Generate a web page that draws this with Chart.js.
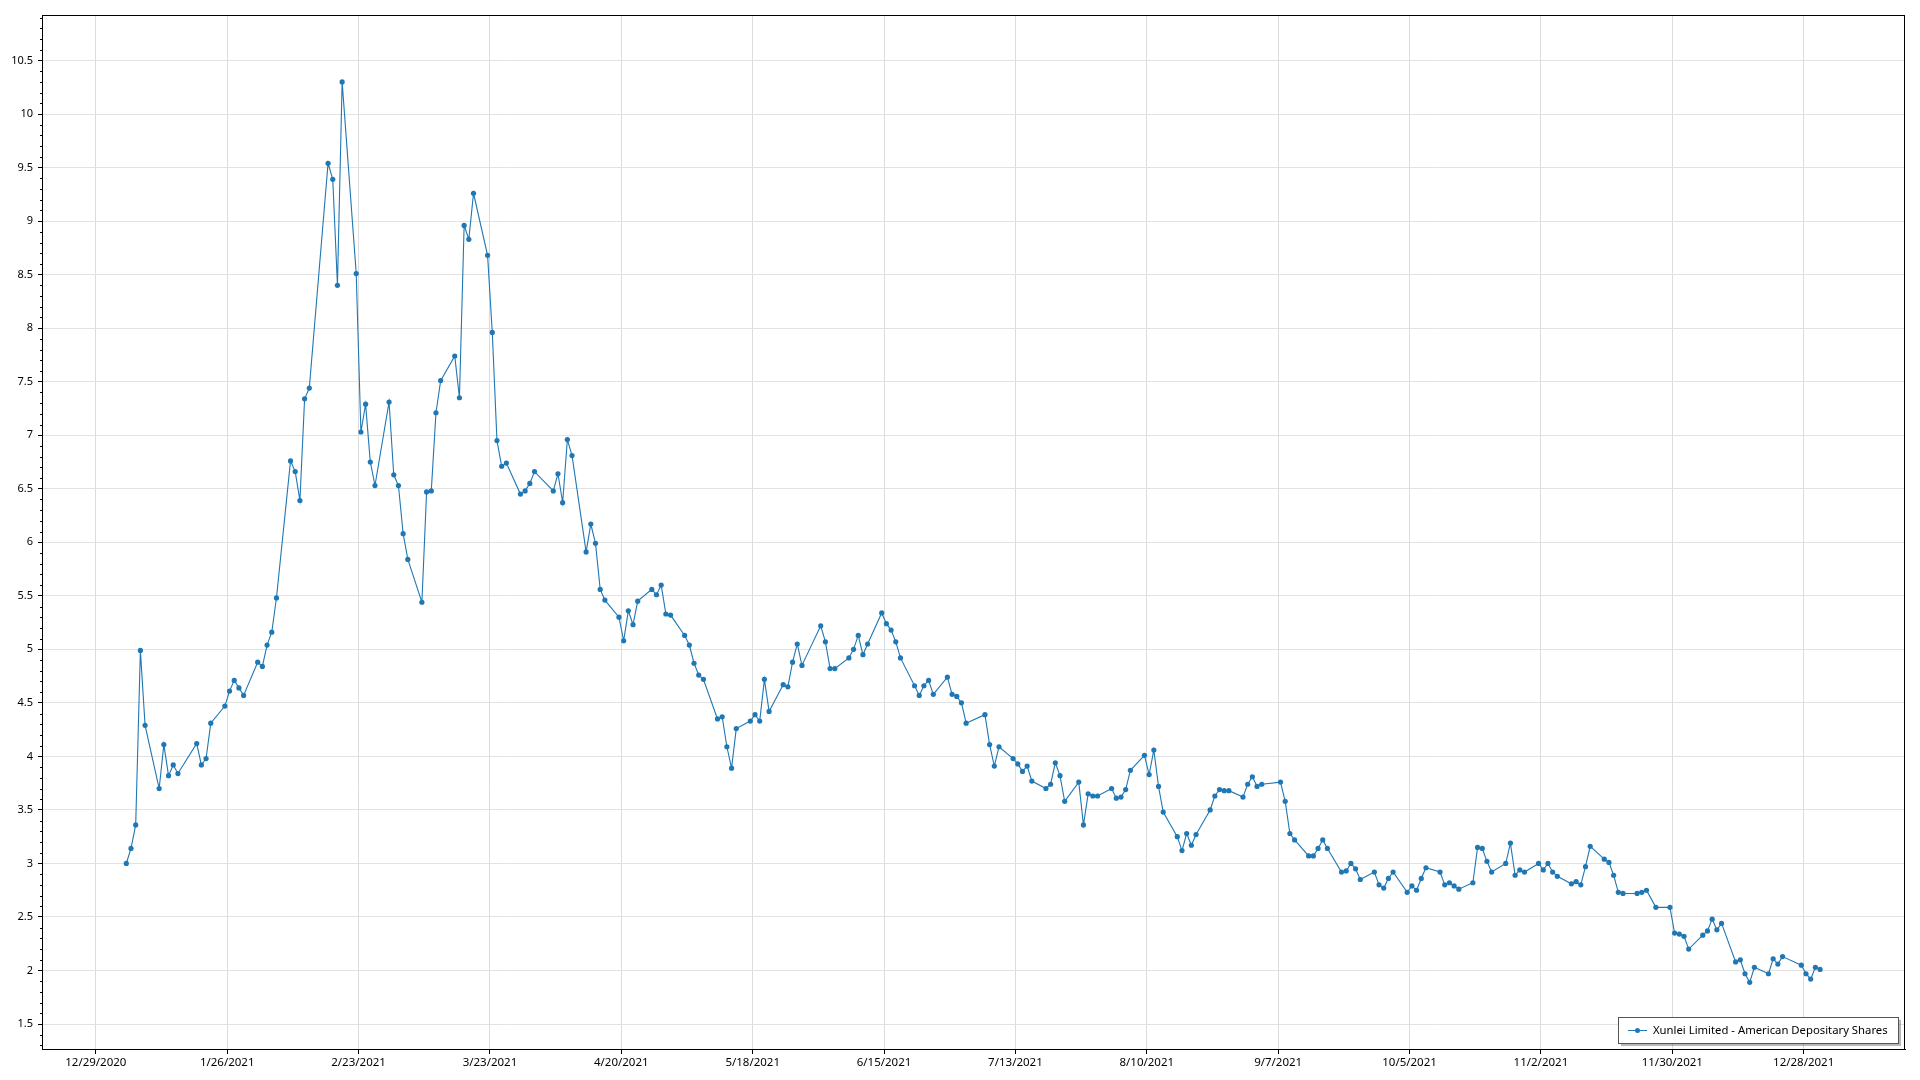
<!DOCTYPE html>
<html lang="en">
<head>
    <meta charset="UTF-8">
    <title>Xunlei Limited - American Depositary Shares</title>
    <script src="https://cdn.jsdelivr.net/npm/chart.js@4.4.1/dist/chart.umd.min.js"></script>
    <style>
        html, body { margin: 0; padding: 0; background: #fff; }
        #wrap { width: 1920px; height: 1080px; }
    </style>
</head>
<body>
<div id="wrap"><canvas id="myChart" width="1920" height="1080"></canvas></div>
<script>
    const seriesName = 'Xunlei Limited - American Depositary Shares';
    const year = 2021;

    // trading days (M/D, 2021)
    const tradeDays = [
        '1/4','1/5','1/6','1/7','1/8','1/11','1/12','1/13','1/14','1/15','1/19','1/20','1/21','1/22','1/25','1/26','1/27','1/28','1/29',
        '2/1','2/2','2/3','2/4','2/5','2/8','2/9','2/10','2/11','2/12','2/16','2/17','2/18','2/19','2/22','2/23','2/24','2/25','2/26',
        '3/1','3/2','3/3','3/4','3/5','3/8','3/9','3/10','3/11','3/12','3/15','3/16','3/17','3/18','3/19','3/22','3/23','3/24','3/25','3/26','3/29','3/30','3/31',
        '4/1','4/5','4/6','4/7','4/8','4/9','4/12','4/13','4/14','4/15','4/16','4/19','4/20','4/21','4/22','4/23','4/26','4/27','4/28','4/29','4/30',
        '5/3','5/4','5/5','5/6','5/7','5/10','5/11','5/12','5/13','5/14','5/17','5/18','5/19','5/20','5/21','5/24','5/25','5/26','5/27','5/28',
        '6/1','6/2','6/3','6/4','6/7','6/8','6/9','6/10','6/11','6/14','6/15','6/16','6/17','6/18','6/21','6/22','6/23','6/24','6/25','6/28','6/29','6/30',
        '7/1','7/2','7/6','7/7','7/8','7/9','7/12','7/13','7/14','7/15','7/16','7/19','7/20','7/21','7/22','7/23','7/26','7/27','7/28','7/29','7/30',
        '8/2','8/3','8/4','8/5','8/6','8/9','8/10','8/11','8/12','8/13','8/16','8/17','8/18','8/19','8/20','8/23','8/24','8/25','8/26','8/27','8/30','8/31',
        '9/1','9/2','9/3','9/7','9/8','9/9','9/10','9/13','9/14','9/15','9/16','9/17','9/20','9/21','9/22','9/23','9/24','9/27','9/28','9/29','9/30',
        '10/1','10/4','10/5','10/6','10/7','10/8','10/11','10/12','10/13','10/14','10/15','10/18','10/19','10/20','10/21','10/22','10/25','10/26','10/27','10/28','10/29',
        '11/1','11/2','11/3','11/4','11/5','11/8','11/9','11/10','11/11','11/12','11/15','11/16','11/17','11/18','11/19','11/22','11/23','11/24','11/26','11/29','11/30',
        '12/1','12/2','12/3','12/6','12/7','12/8','12/9','12/10','12/13','12/14','12/15','12/16','12/17','12/20','12/21','12/22','12/23','12/27','12/28','12/29','12/30','12/31'
    ];

    // closing price, same order as tradeDays
    const closePrices = [
        3.00,3.14,3.36,4.99,4.29,3.70,4.11,3.82,3.92,3.84,4.12,3.92,3.98,4.31,4.47,4.61,4.71,4.64,4.57,
        4.88,4.84,5.04,5.16,5.48,6.76,6.66,6.39,7.34,7.44,9.54,9.39,8.40,10.30,8.51,7.03,7.29,6.75,6.53,
        7.31,6.63,6.53,6.08,5.84,5.44,6.47,6.48,7.21,7.51,7.74,7.35,8.96,8.83,9.26,8.68,7.96,6.95,6.71,6.74,6.45,6.48,6.55,
        6.66,6.48,6.64,6.37,6.96,6.81,5.91,6.17,5.99,5.56,5.46,5.30,5.08,5.36,5.23,5.45,5.56,5.51,5.60,5.33,5.32,
        5.13,5.04,4.87,4.76,4.72,4.35,4.37,4.09,3.89,4.26,4.33,4.39,4.33,4.72,4.42,4.67,4.65,4.88,5.05,4.85,
        5.22,5.07,4.82,4.82,4.92,5.00,5.13,4.95,5.05,5.34,5.24,5.18,5.07,4.92,4.66,4.57,4.66,4.71,4.58,4.74,4.58,4.56,
        4.50,4.31,4.39,4.11,3.91,4.09,3.98,3.93,3.86,3.91,3.77,3.70,3.74,3.94,3.82,3.58,3.76,3.36,3.65,3.63,3.63,
        3.70,3.61,3.62,3.69,3.87,4.01,3.83,4.06,3.72,3.48,3.25,3.12,3.28,3.17,3.27,3.50,3.63,3.69,3.68,3.68,3.62,3.74,
        3.81,3.72,3.74,3.76,3.58,3.28,3.22,3.07,3.07,3.14,3.22,3.14,2.92,2.93,3.00,2.95,2.85,2.92,2.80,2.77,2.86,
        2.92,2.73,2.79,2.75,2.86,2.96,2.92,2.80,2.82,2.79,2.76,2.82,3.15,3.14,3.02,2.92,3.00,3.19,2.89,2.94,2.92,
        3.00,2.94,3.00,2.92,2.88,2.81,2.83,2.80,2.97,3.16,3.04,3.01,2.89,2.73,2.72,2.72,2.73,2.75,2.59,2.59,2.35,
        2.34,2.32,2.20,2.33,2.37,2.48,2.38,2.44,2.08,2.10,1.97,1.89,2.03,1.97,2.11,2.06,2.13,2.05,1.97,1.92,2.03,2.01
    ];

    const xTickLabels = ['12/29/2020','1/26/2021','2/23/2021','3/23/2021','4/20/2021','5/18/2021','6/15/2021',
        '7/13/2021','8/10/2021','9/7/2021','10/5/2021','11/2/2021','11/30/2021','12/28/2021'];
    const yTickValues = [1.5, 2, 2.5, 3, 3.5, 4, 4.5, 5, 5.5, 6, 6.5, 7, 7.5, 8, 8.5, 9, 9.5, 10, 10.5];

    // axis ranges (days after 12/29/2020, price)
    const xMin = -11.47, xMax = 385.6;
    const yMin = 1.267, yMax = 10.925;

    const lineColor = '#1f77b4';
    const origin = Date.UTC(2020, 11, 29);

    function dayOf(str) {
        const p = str.split('/').map(Number);
        const y = p[2] || year;
        return (Date.UTC(y, p[0] - 1, p[1]) - origin) / 864e5;
    }

    // quotes sit half a day after the date tick
    const points = tradeDays.map((d, i) => ({ x: dayOf(d) + 0.5, y: closePrices[i] }));

    // small minor ticks on the value axis + frame around the plot
    const framePlugin = {
        id: 'frame',
        afterDraw(chart) {
            const ctx = chart.ctx;
            const a = chart.chartArea;
            const ys = chart.scales.y;
            ctx.save();
            ctx.strokeStyle = '#000';
            ctx.lineWidth = 1;
            ctx.beginPath();
            for (let i = Math.ceil(yMin * 10); i <= Math.floor(yMax * 10); i++) {
                if (i % 5 === 0) continue;
                const py = Math.round(ys.getPixelForValue(i / 10)) + 0.5;
                ctx.moveTo(a.left - 2, py);
                ctx.lineTo(a.left, py);
            }
            ctx.stroke();
            ctx.strokeRect(Math.round(a.left) + 0.5, Math.round(a.top) + 0.5,
                Math.round(a.right - a.left) - 1, Math.round(a.bottom - a.top));
            ctx.restore();
        }
    };

    // legend box in the lower right corner of the plot
    const legendPlugin = {
        id: 'cornerLegend',
        afterDraw(chart) {
            const ctx = chart.ctx;
            const a = chart.chartArea;
            const ds = chart.data.datasets[0];
            ctx.save();
            ctx.font = '11.3px "Noto Sans", sans-serif';
            const tw = ctx.measureText(ds.label).width;
            const w = Math.round(tw + 45), h = 26;
            const x = Math.round(a.right - 7 - w), y = Math.round(a.bottom - 6 - h);
            ctx.fillStyle = 'rgba(0,0,0,0.28)';
            ctx.fillRect(x + 3, y + 3, w, h);
            ctx.fillStyle = '#fff';
            ctx.fillRect(x, y, w, h);
            ctx.strokeStyle = '#555';
            ctx.lineWidth = 1;
            ctx.strokeRect(x + 0.5, y + 0.5, w, h);
            const cy = y + h / 2 + 0.5;
            ctx.strokeStyle = ds.borderColor;
            ctx.beginPath();
            ctx.moveTo(x + 10, cy);
            ctx.lineTo(x + 29, cy);
            ctx.stroke();
            ctx.fillStyle = ds.borderColor;
            ctx.beginPath();
            ctx.arc(x + 19.5, cy, 2.5, 0, Math.PI * 2);
            ctx.fill();
            ctx.fillStyle = '#000';
            ctx.textBaseline = 'middle';
            ctx.fillText(ds.label, x + 35, cy);
            ctx.restore();
        }
    };

    Chart.defaults.font.family = '"Noto Sans", sans-serif';
    Chart.defaults.font.size = 11;
    Chart.defaults.color = '#000';

    const ctx = document.getElementById('myChart').getContext('2d');
    new Chart(ctx, {
        type: 'line',
        data: {
            datasets: [{
                label: seriesName,
                data: points,
                borderColor: lineColor,
                backgroundColor: lineColor,
                borderWidth: 1.1,
                pointRadius: 2.6,
                pointBorderWidth: 0,
                pointBackgroundColor: lineColor,
                tension: 0,
                fill: false
            }]
        },
        options: {
            responsive: false,
            animation: false,
            devicePixelRatio: 1,
            layout: { padding: { left: 0, top: 15, right: 15, bottom: 0 } },
            plugins: {
                legend: { display: false },
                tooltip: { enabled: false }
            },
            scales: {
                x: {
                    type: 'linear',
                    min: xMin,
                    max: xMax,
                    afterBuildTicks: axis => { axis.ticks = xTickLabels.map(s => ({ value: dayOf(s) })); },
                    afterFit: axis => { axis.height = 31; },
                    grid: { color: '#dcdcdc', tickColor: '#000', tickLength: 5 },
                    border: { color: '#000', width: 1 },
                    ticks: {
                        autoSkip: false,
                        maxRotation: 0,
                        padding: 2,
                        font: { size: 11.5 },
                        callback: (v, i) => xTickLabels[i]
                    }
                },
                y: {
                    type: 'linear',
                    min: yMin,
                    max: yMax,
                    afterBuildTicks: axis => { axis.ticks = yTickValues.map(v => ({ value: v })); },
                    afterFit: axis => { axis.width = 42; },
                    grid: { color: '#e2e2e2', tickColor: '#000', tickLength: 4 },
                    border: { color: '#000', width: 1 },
                    ticks: {
                        padding: 5,
                        callback: v => String(v)
                    }
                }
            }
        },
        plugins: [framePlugin, legendPlugin]
    });
</script>
</body>
</html>
